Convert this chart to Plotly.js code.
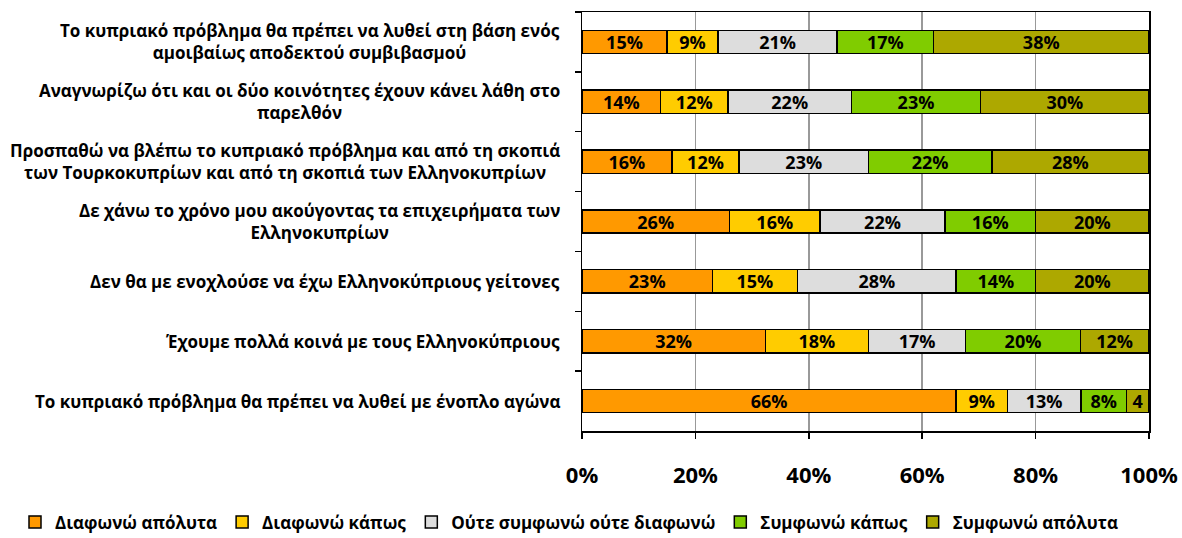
<!DOCTYPE html>
<html>
<head>
<meta charset="utf-8">
<script src="https://cdn.plot.ly/plotly-3.0.1.min.js"></script>
<style>html,body{margin:0;padding:0;background:#fff;}#chart{width:1182px;height:538px;}</style>
</head>
<body>
<div id="chart"></div>
<script>
var categories = [
  "Το κυπριακό πρόβλημα θα πρέπει να λυθεί στη βάση ενός<br>αμοιβαίως αποδεκτού συμβιβασμού",
  "Αναγνωρίζω ότι και οι δύο κοινότητες έχουν κάνει λάθη στο<br>παρελθόν",
  "Προσπαθώ να βλέπω το κυπριακό πρόβλημα και από τη σκοπιά<br>των Τουρκοκυπρίων και από τη σκοπιά των Ελληνοκυπρίων",
  "Δε χάνω το χρόνο μου ακούγοντας τα επιχειρήματα των<br>Ελληνοκυπρίων",
  "Δεν θα με ενοχλούσε να έχω Ελληνοκύπριους γείτονες",
  "Έχουμε πολλά κοινά με τους Ελληνοκύπριους",
  "Το κυπριακό πρόβλημα θα πρέπει να λυθεί με ένοπλο αγώνα"
];
var seriesNames = ["Διαφωνώ απόλυτα", "Διαφωνώ κάπως", "Ούτε συμφωνώ ούτε διαφωνώ", "Συμφωνώ κάπως", "Συμφωνώ απόλυτα"];
var disagreeStrongly = [15, 14, 16, 26, 23, 32, 66];
var disagreeSomewhat = [9, 12, 12, 16, 15, 18, 9];
var neutral = [21, 22, 23, 22, 28, 17, 13];
var agreeSomewhat = [17, 23, 22, 16, 14, 20, 8];
var agreeStrongly = [38, 30, 28, 20, 20, 12, 4];
var xTickVals = [0, 20, 40, 60, 80, 100];
var xTickText = ["0%", "20%", "40%", "60%", "80%", "100%"];
var colors = ["#FF9900", "#FFCC00", "#DDDDDD", "#80CC00", "#ADA800"];

var allSeries = [disagreeStrongly, disagreeSomewhat, neutral, agreeSomewhat, agreeStrongly];
var FONT = "'Open Sans', 'Noto Sans', sans-serif";
var traces = allSeries.map(function (vals, i) {
  return {
    type: "bar",
    orientation: "h",
    name: seriesNames[i],
    y: categories,
    x: vals,
    width: 0.39,
    text: vals.map(function (v) { return (v < 5) ? String(v) : v + "%"; }),
    textposition: "inside",
    insidetextanchor: "middle",
    constraintext: "none",
    textangle: 0,
    textfont: {family: FONT, size: 18, color: "#000", weight: "bold"},
    marker: {color: colors[i], line: {color: "#000", width: 1.5}},
    hoverinfo: "skip"
  };
});

var annotations = categories.map(function (c) {
  return {
    xref: "paper", yref: "y", x: 0, y: c, xanchor: "right", yanchor: "middle",
    xshift: -20, align: "center", showarrow: false, text: c,
    font: {family: FONT, size: 17, color: "#000", weight: "bold"}
  };
});

var layout = {
  width: 1182, height: 538,
  margin: {l: 582, r: 33, t: 12, b: 107, autoexpand: false},
  barmode: "stack",
  barnorm: "percent",
  paper_bgcolor: "#fff", plot_bgcolor: "#fff",
  showlegend: true,
  legend: {orientation: "h", x: -1.0, xanchor: "left", y: -0.175, yanchor: "top",
    font: {family: FONT, size: 17, color: "#000", weight: "bold"}, traceorder: "normal", itemwidth: 30},
  xaxis: {range: [0, 100], tickvals: xTickVals, ticktext: xTickText, showgrid: true, gridcolor: "#999", gridwidth: 1.5,
    showline: true, linecolor: "#000", linewidth: 1.5, mirror: true, ticks: "outside", ticklen: 6, tickcolor: "#000", tickwidth: 1.5,
    ticklabelstandoff: 18, tickfont: {family: FONT, size: 22, color: "#000", weight: "bold"}, zeroline: false, fixedrange: true},
  yaxis: {autorange: "reversed", type: "category", showticklabels: false, showline: true, linecolor: "#000", linewidth: 1.5, mirror: true,
    ticks: "outside", tickson: "boundaries", ticklen: 6, tickcolor: "#000", tickwidth: 1.5, showgrid: false, fixedrange: true},
  annotations: annotations,
  bargap: 0.6
};
Plotly.newPlot("chart", traces, layout, {displayModeBar: false, staticPlot: true});
</script>
</body>
</html>
